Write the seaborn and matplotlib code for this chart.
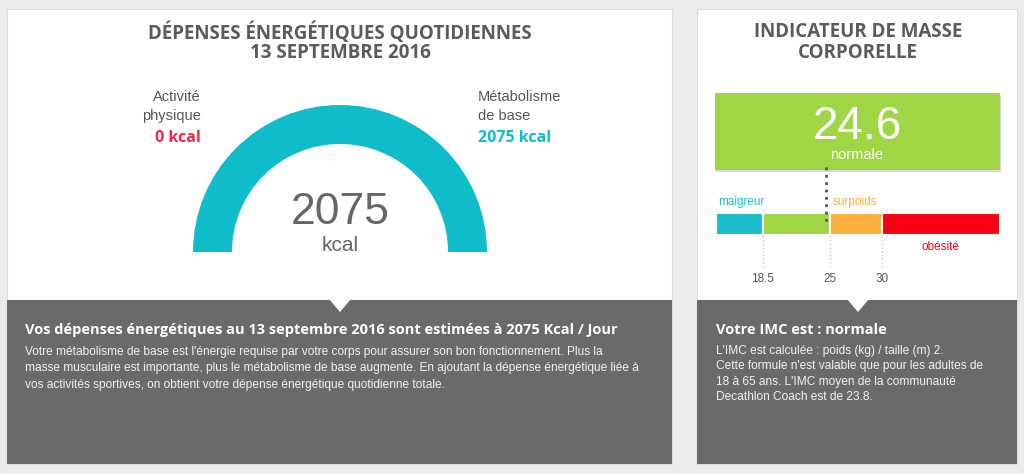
import numpy as np
import matplotlib.pyplot as plt
from matplotlib.patches import Rectangle, Polygon
import seaborn as sns

# --- data -------------------------------------------------------------
day_label = "13 SEPTEMBRE 2016"
activity_kcal = 0
base_kcal = 2075
total_kcal = activity_kcal + base_kcal

bmi_value = 24.6
bmi_status = "normale"
bmi_bounds = [14.0, 18.5, 25.0, 30.0, 41.4]
bmi_classes = ["maigreur", "normale", "surpoids", "obésité"]
bmi_colors = ["#1bbccb", "#a0d646", "#fdae3c", "#fb0012"]
bmi_ticks = [18.5, 25, 30]
bmi_tick_labels = ["18.5", "25", "30"]
bmi_mean = 23.8

# --- style ------------------------------------------------------------
sns.set_theme(style="white")
plt.rcParams["font.family"] = ["Liberation Sans", "DejaVu Sans"]

W, H = 1024, 474
BG = "#ebebeb"
DARK = "#6a6a6a"
TITLE = "#5b5b5b"
TEXT = "#555555"
TEAL = "#0fbcca"
RED = "#f5284a"
HEAD = ["Open Sans", "DejaVu Sans"]

fig = plt.figure(figsize=(W / 100, H / 100), dpi=100)
fig.patch.set_facecolor(BG)


def px_axes(x0, y0, x1, y1, z=1):
    a = fig.add_axes([x0 / W, 1 - y1 / H, (x1 - x0) / W, (y1 - y0) / H])
    a.set_zorder(z)
    a.patch.set_alpha(0)
    return a


bg = px_axes(0, 0, W, H, z=0)
bg.set_xlim(0, W)
bg.set_ylim(H, 0)
bg.axis("off")

# panels
for x0, x1, notch in [(7, 672, 340), (697, 1017, 858)]:
    bg.add_patch(Rectangle((x0, 9), x1 - x0, 455, color="white", ec="#dddddd", lw=0.8))
    bg.add_patch(Rectangle((x0, 300), x1 - x0, 164, color=DARK, lw=0))
    bg.add_patch(Polygon([(notch - 11, 299), (notch + 11, 299), (notch, 312)], color="white", lw=0))

# --- left panel: energy gauge -----------------------------------------
bg.text(340, 33, "DÉPENSES ÉNERGÉTIQUES QUOTIDIENNES", ha="center", va="center",
        family=HEAD, weight="bold", fontsize=13.5, color=TITLE)
bg.text(340, 53, day_label, ha="center", va="center",
        family=HEAD, weight="bold", fontsize=13.5, color=TITLE)

gax = px_axes(193, 105, 487, 252)
gax.pie([activity_kcal, base_kcal, total_kcal], colors=[RED, TEAL, "none"],
        startangle=180, counterclock=False, radius=1,
        wedgeprops=dict(width=0.265, edgecolor="none", linewidth=0))
gax.set_xlim(-1, 1)
gax.set_ylim(0, 1)
gax.axis("off")

bg.text(340, 212, f"{total_kcal}", ha="center", va="center", fontsize=32, color="#666666")
bg.text(340, 245, "kcal", ha="center", va="center", fontsize=15, color="#666666")

bg.text(201, 97, "Activité", ha="right", va="center", fontsize=10.5, color=TEXT)
bg.text(201, 116, "physique", ha="right", va="center", fontsize=10.5, color=TEXT)
bg.text(201, 138, f"{activity_kcal} kcal", ha="right", va="center", family=HEAD,
        weight="bold", fontsize=11.5, color=RED)
bg.text(478, 97, "Métabolisme", ha="left", va="center", fontsize=10.5, color=TEXT)
bg.text(478, 116, "de base", ha="left", va="center", fontsize=10.5, color=TEXT)
bg.text(478, 138, f"{base_kcal} kcal", ha="left", va="center", family=HEAD,
        weight="bold", fontsize=11.5, color=TEAL)

bg.text(25, 330, f"Vos dépenses énergétiques au 13 septembre 2016 sont estimées à {total_kcal} Kcal / Jour",
        ha="left", va="center", family=HEAD, weight="bold", fontsize=10.5, color="white")
left_body = [
    "Votre métabolisme de base est l'énergie requise par votre corps pour assurer son bon fonctionnement. Plus la",
    "masse musculaire est importante, plus le métabolisme de base augmente. En ajoutant la dépense énergétique liée à",
    "vos activités sportives, on obtient votre dépense énergétique quotidienne totale.",
]
for i, line in enumerate(left_body):
    bg.text(25, 352 + 16.5 * i, line, ha="left", va="center", fontsize=8.6, color="#f2f2f2")

# --- right panel: BMI -------------------------------------------------
bg.text(858, 32, "INDICATEUR DE MASSE", ha="center", va="center",
        family=HEAD, weight="bold", fontsize=13.5, color=TITLE)
bg.text(858, 53, "CORPORELLE", ha="center", va="center",
        family=HEAD, weight="bold", fontsize=13.5, color=TITLE)

cls = int(np.digitize(bmi_value, bmi_bounds)) - 1
bg.add_patch(Rectangle((716, 95), 285, 77, color="#d8d8d8", lw=0))
bg.add_patch(Rectangle((715, 93), 285, 77, color=bmi_colors[cls], lw=0))
bg.text(857, 127, f"{bmi_value}", ha="center", va="center", fontsize=33, color="white")
bg.text(857, 155, bmi_status, ha="center", va="center", fontsize=10.5, color="white")

bax = px_axes(716, 150, 1000, 295, z=2)
bax.set_xlim(bmi_bounds[0], bmi_bounds[-1])
bax.set_ylim(295, 150)
bax.axis("off")
bax.barh(224, np.diff(bmi_bounds), left=bmi_bounds[:-1], height=22,
         color=bmi_colors, edgecolor="white", linewidth=1.5)
bax.vlines(bmi_ticks, 236, 268, colors="#c8c8c8", linestyles=":", linewidth=1)
for t, lbl in zip(bmi_ticks, bmi_tick_labels):
    bax.text(t, 279, lbl, ha="center", va="center", fontsize=8.5, color=TEXT)
bax.vlines(bmi_value, 167, 222, colors="#555555", linestyles=":", linewidth=2)
bax.text(bmi_bounds[0] + 0.2, 202, bmi_classes[0], ha="left", va="center",
         fontsize=8.5, color=bmi_colors[0])
bax.text(bmi_bounds[2] + 0.3, 202, bmi_classes[2], ha="left", va="center",
         fontsize=8.5, color=bmi_colors[2])
bax.text((bmi_bounds[3] + bmi_bounds[4]) / 2, 247, bmi_classes[3], ha="center", va="center",
         fontsize=8.5, color=bmi_colors[3])

bg.text(716, 330, f"Votre IMC est : {bmi_status}", ha="left", va="center",
        family=HEAD, weight="bold", fontsize=10.5, color="white")
right_body = [
    "L'IMC est calculée : poids (kg) / taille (m) 2.",
    "Cette formule n'est valable que pour les adultes de",
    f"18 à 65 ans. L'IMC moyen de la communauté",
    f"Decathlon Coach est de {bmi_mean}.",
]
for i, line in enumerate(right_body):
    bg.text(716, 351 + 15.5 * i, line, ha="left", va="center", fontsize=8.6, color="#f2f2f2")

fig.savefig("out.png", dpi=100, facecolor=fig.get_facecolor())
